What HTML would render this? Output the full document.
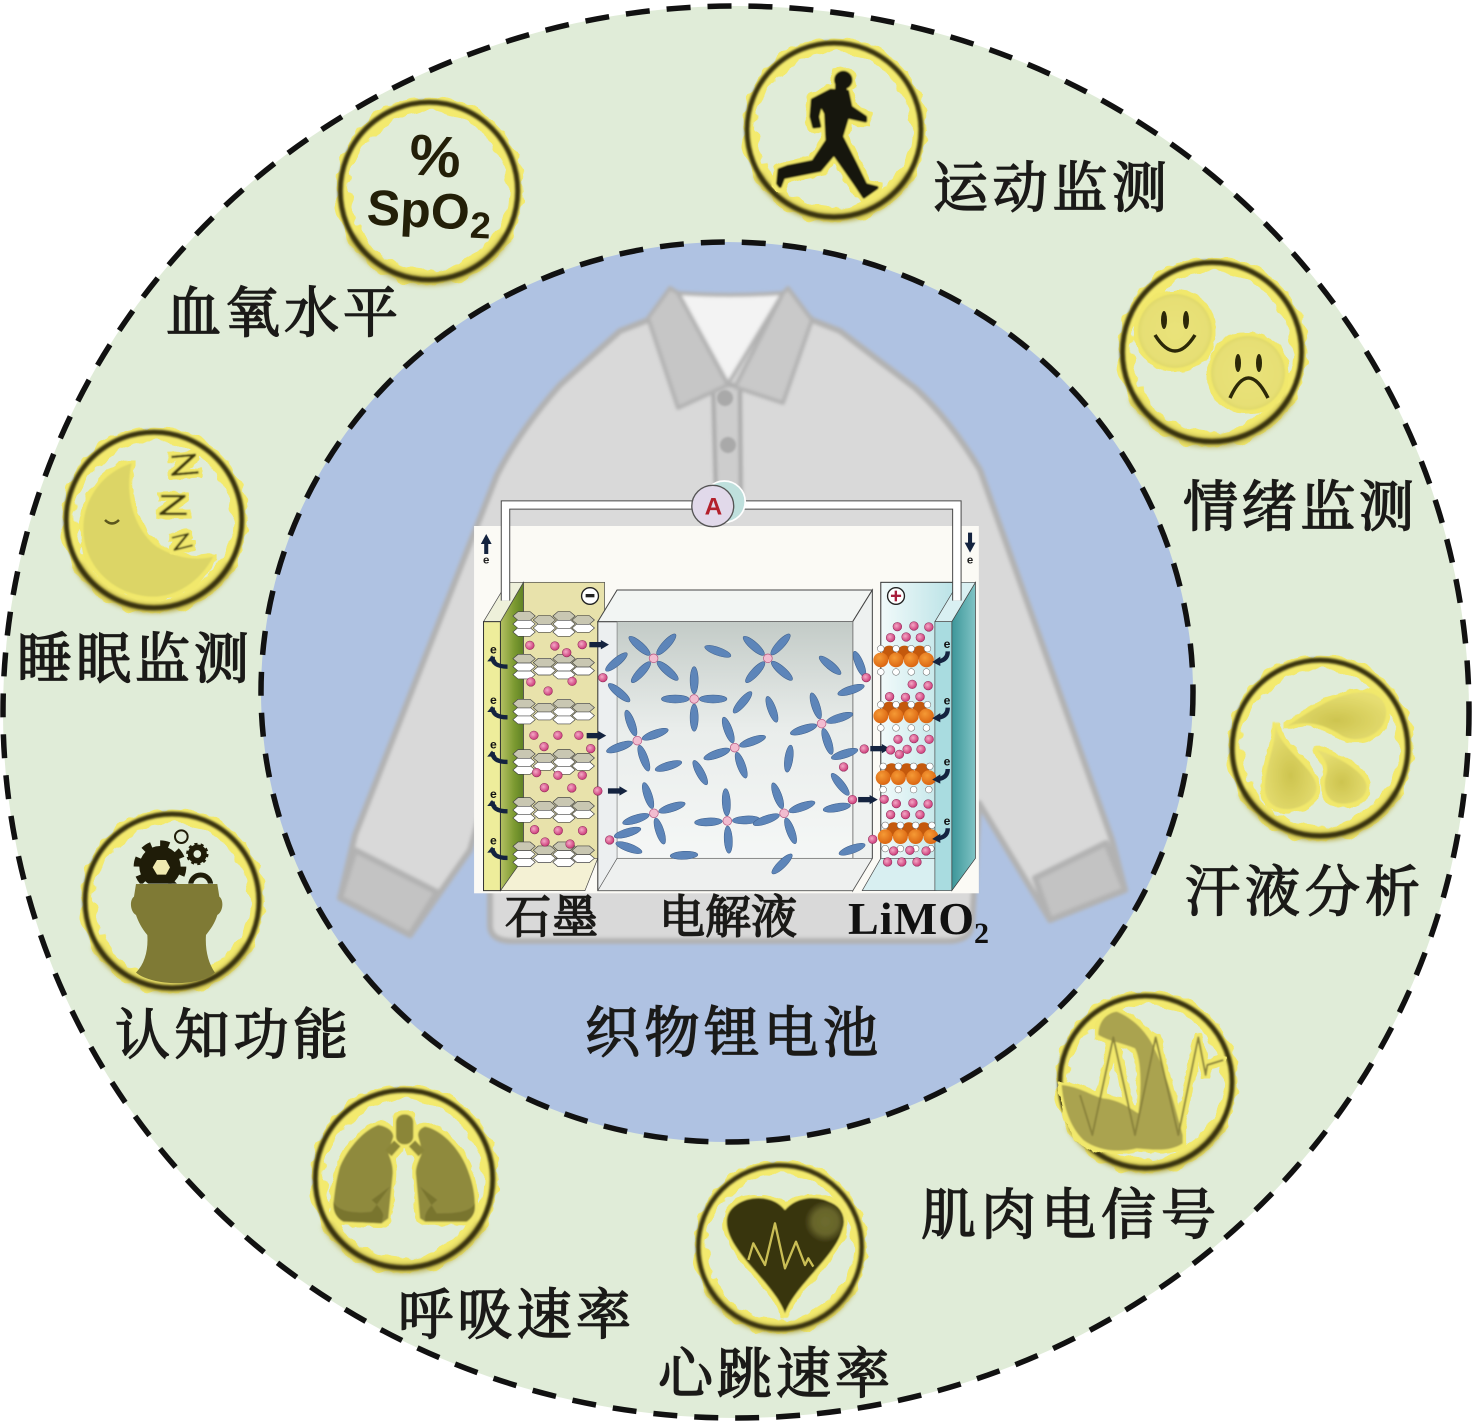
<!DOCTYPE html>
<html lang="zh">
<head>
<meta charset="utf-8">
<title>织物锂电池</title>
<style>
html,body{margin:0;padding:0;background:#fff}
svg{display:block}
.lb{font-family:"Liberation Serif","Noto Serif CJK SC",serif;font-size:55px;fill:#1b1a18;stroke:#1b1a18;stroke-width:1.5}
</style>
</head>
<body>
<svg xmlns="http://www.w3.org/2000/svg" xmlns:xlink="http://www.w3.org/1999/xlink" width="1473" height="1425" viewBox="0 0 1473 1425">
<defs>
<filter id="b4" x="-10%" y="-10%" width="120%" height="120%"><feGaussianBlur stdDeviation="1.5"/></filter>
<filter id="b3" x="-20%" y="-40%" width="140%" height="180%"><feGaussianBlur stdDeviation="2.5"/></filter>
<filter id="b1" x="-10%" y="-10%" width="120%" height="120%"><feGaussianBlur stdDeviation="1"/></filter>
<filter id="rough" x="-20%" y="-20%" width="140%" height="140%">
<feTurbulence type="fractalNoise" baseFrequency=".07" numOctaves="2" seed="4"/>
<feDisplacementMap in="SourceGraphic" scale="13" xChannelSelector="R" yChannelSelector="G"/>
</filter>
<filter id="glow" x="-25%" y="-25%" width="150%" height="150%">
<feMorphology in="SourceAlpha" operator="dilate" radius="3.5" result="d"/>
<feTurbulence type="fractalNoise" baseFrequency=".09" numOctaves="2" seed="7" result="n"/>
<feDisplacementMap in="d" in2="n" scale="6" xChannelSelector="R" yChannelSelector="G" result="dd"/>
<feFlood flood-color="#f1e86c"/>
<feComposite in2="dd" operator="in" result="y"/>
<feGaussianBlur in="SourceGraphic" stdDeviation=".9" result="s"/>
<feMerge><feMergeNode in="y"/><feMergeNode in="s"/></feMerge>
</filter>
<g id="icon">
<circle r="85" fill="none" stroke="#f3ea6e" stroke-width="15" filter="url(#rough)"/>
<path d="M-76,44 A88,88 0 0 0 76,44" fill="none" stroke="#b9af48" stroke-width="9" filter="url(#b3)"/>
<circle r="87" fill="none" stroke="#37310f" stroke-width="5" filter="url(#b1)"/>
</g>
<linearGradient id="back" x1="0" y1="0" x2="0" y2="1"><stop offset="0" stop-color="#c3cbc7"/><stop offset=".45" stop-color="#e9edeb"/><stop offset="1" stop-color="#f5f7f6"/></linearGradient>
<linearGradient id="grn" x1="0" y1="0" x2="1" y2="0"><stop offset="0" stop-color="#b5c063"/><stop offset=".6" stop-color="#7c9a31"/><stop offset="1" stop-color="#5f8224"/></linearGradient>
<linearGradient id="teal" x1="0" y1="0" x2="1" y2="0"><stop offset="0" stop-color="#3c9699"/><stop offset="1" stop-color="#80c4c5"/></linearGradient>
<linearGradient id="cyan" x1="0" y1="0" x2="1" y2="0"><stop offset="0" stop-color="#f1fafa"/><stop offset="1" stop-color="#b7e1e5"/></linearGradient>
<radialGradient id="hl" cx=".55" cy=".5" r=".5"><stop offset="0" stop-color="#6e6c2e"/><stop offset=".6" stop-color="#66642a"/><stop offset="1" stop-color="#39350f"/></radialGradient>
<radialGradient id="face" cx=".5" cy=".5" r=".55"><stop offset="0" stop-color="#e9e27a"/><stop offset=".8" stop-color="#e6df74"/><stop offset="1" stop-color="#d9d264"/></radialGradient>
<radialGradient id="drop" cx=".5" cy=".6" r=".6"><stop offset="0" stop-color="#cdc44f"/><stop offset="1" stop-color="#e6de72"/></radialGradient>
<radialGradient id="li" cx=".4" cy=".4" r=".6"><stop offset="0" stop-color="#f4a9c6"/><stop offset="1" stop-color="#cd3c7a"/></radialGradient>
<radialGradient id="or" cx=".4" cy=".35" r=".7"><stop offset="0" stop-color="#f59a35"/><stop offset="1" stop-color="#d9620f"/></radialGradient>
<clipPath id="gc"><rect x="180" y="60" width="320" height="191"/></clipPath>
<ellipse id="p" cx="56" cy="0" rx="41" ry="12" fill="#5d85b9" stroke="#3a5c8a" stroke-width="1.5"/>
<g id="s"><ellipse cx="0" cy="0" rx="41" ry="12" fill="#5d85b9" stroke="#3a5c8a" stroke-width="1.5"/></g>
<g id="f"><use xlink:href="#p"/><use xlink:href="#p" transform="rotate(90)"/><use xlink:href="#p" transform="rotate(180)"/><use xlink:href="#p" transform="rotate(270)"/><circle r="13" fill="#f2bcd0" stroke="#b5527e" stroke-width="2"/></g>
<circle id="l" r="13" fill="url(#li)" stroke="#8c2a58" stroke-width="1.5"/>
<circle id="w" r="10" fill="#fff" stroke="#666" stroke-width="1.5"/>
<g id="a"><rect x="0" y="-8" width="36" height="16" fill="#14233f"/><polygon points="34,-14 58,0 34,14" fill="#14233f"/></g>
<polygon id="h" points="-33,0 -18,-13 18,-13 33,0 18,13 -18,13" fill="#fff" stroke="#444" stroke-width="2"/>
<polygon id="hg" points="-33,0 -18,-13 18,-13 33,0 18,13 -18,13" fill="#c9c7b2" stroke="#444" stroke-width="2"/>
<g id="g">
<use xlink:href="#h" x="160" y="24"/><use xlink:href="#h" x="278" y="24"/>
<use xlink:href="#h" x="220" y="12"/><use xlink:href="#h" x="335" y="12"/>
<use xlink:href="#h" x="160" y="0"/><use xlink:href="#h" x="278" y="0"/>
<use xlink:href="#hg" x="220" y="-12"/><use xlink:href="#hg" x="335" y="-12"/>
<use xlink:href="#hg" x="160" y="-24"/><use xlink:href="#hg" x="278" y="-24"/>
</g>
<g id="e"><text x="0" y="0" font-family="Liberation Sans,sans-serif" font-size="36" font-weight="bold" fill="#111" text-anchor="middle">e</text><path d="M-2,10 Q-4,40 42,40" fill="none" stroke="#14233f" stroke-width="13"/><polygon points="-16,18 -2,0 12,18" fill="#14233f" transform="translate(-2,6)"/></g>
<g id="e2"><text x="0" y="0" font-family="Liberation Sans,sans-serif" font-size="36" font-weight="bold" fill="#111" text-anchor="middle">e</text><path d="M2,10 Q2,36 -26,40" fill="none" stroke="#14233f" stroke-width="13"/><polygon points="-20,26 -44,42 -20,54" fill="#14233f"/></g>
<g id="ox">
<circle cx="25" cy="-22" r="21" fill="#c4590c"/><circle cx="70" cy="-22" r="21" fill="#c4590c"/><circle cx="115" cy="-22" r="21" fill="#c4590c"/>
<use xlink:href="#w" x="0" y="-34"/><use xlink:href="#w" x="45" y="-34"/><use xlink:href="#w" x="90" y="-34"/><use xlink:href="#w" x="138" y="-34"/>
<circle cx="0" cy="0" r="22" fill="url(#or)"/><circle cx="45" cy="0" r="22" fill="url(#or)"/><circle cx="90" cy="0" r="22" fill="url(#or)"/><circle cx="135" cy="0" r="22" fill="url(#or)"/>
<use xlink:href="#w" x="0" y="36"/><use xlink:href="#w" x="45" y="36"/><use xlink:href="#w" x="90" y="36"/><use xlink:href="#w" x="135" y="36"/>
</g>
</defs>

<rect width="1473" height="1425" fill="#fff"/>
<ellipse cx="736" cy="712" rx="733" ry="706" fill="#e0ecd8" stroke="#111" stroke-width="5.5" stroke-dasharray="24 17"/>
<ellipse cx="727" cy="692" rx="466" ry="450" fill="#afc2e2" stroke="#111" stroke-width="5.5" stroke-dasharray="24 17"/>

<!-- shirt -->
<g filter="url(#b4)" stroke="#b2b2b2" stroke-width="6" stroke-linejoin="round">
<path d="M648,320 L620,331 L560,385 Q520,430 497,475 L355,835 L340,898 L410,935 L470,850 L490,780 L490,925 Q490,940 510,941 L950,941 Q970,940 972,925 L979,803 L1050,920 L1125,890 L1112,840 L980,470 Q950,420 915,388 L840,331 L812,320 L790,300 L680,300 Z" fill="#d9d9d9"/>
<path d="M355,850 L340,898 L410,935 L437,892 Z" fill="#c3c3c3"/>
<path d="M1035,878 L1050,920 L1125,890 L1106,843 Z" fill="#c3c3c3"/>
<path d="M713,385 L740,385 L741,500 L716,500 Z" fill="#cdcdcd" stroke="#a9a9a9" stroke-width="4"/>
<path d="M678,293 Q730,297 783,293 L728,384 Z" fill="#f3f3f3" stroke="#b2b2b2" stroke-width="4"/>
<path d="M670,288 L648,318 L678,408 L728,385 L678,293 Z" fill="#c6c6c6" stroke-width="4"/>
<path d="M788,288 L812,320 L783,403 L735,387 L783,293 Z" fill="#c9c9c9" stroke-width="4"/>
</g>
<circle cx="725" cy="398" r="8" fill="#a9a9a9" filter="url(#b1)"/>
<circle cx="728" cy="445" r="8" fill="#a9a9a9" filter="url(#b1)"/>

<!-- battery -->
<g transform="translate(470 470) scale(.3381 .3333)">
<rect x="12" y="168" width="1493" height="1102" fill="#fbfaf5"/>
<rect x="125" y="125" width="1295" height="43" fill="#dadada"/>
<rect x="158" y="337" width="240" height="830" fill="#e8e2ab" stroke="#444" stroke-width="2"/>
<polygon points="90,1262 158,1165 378,1165 340,1262" fill="#f4f1d4" stroke="#444" stroke-width="2"/>
<polygon points="90,455 158,337 158,1165 90,1262" fill="url(#grn)" stroke="#444" stroke-width="2"/>
<polygon points="40,455 90,455 158,337 110,337" fill="#eef0da" stroke="#444" stroke-width="2"/>
<rect x="40" y="455" width="50" height="807" fill="#eeed9b" stroke="#333" stroke-width="3"/>
<rect x="1215" y="337" width="230" height="830" fill="url(#cyan)" stroke="#333" stroke-width="3"/>
<polygon points="1160,1262 1215,1165 1380,1165 1380,1262" fill="#d8eff1" stroke="#444" stroke-width="2"/>
<polygon points="1425,455 1495,337 1495,1165 1425,1262" fill="url(#teal)" stroke="#333" stroke-width="2"/>
<polygon points="1375,455 1425,455 1495,337 1445,337" fill="#d9f0f2" stroke="#444" stroke-width="2"/>
<rect x="1375" y="455" width="50" height="807" fill="#a9dce0" stroke="#444" stroke-width="2"/>
<rect x="378" y="455" width="754" height="807" fill="#eceff0" stroke="#333" stroke-width="3"/>
<polygon points="378,455 435,360 1190,360 1132,455" fill="#f2f5f3" stroke="#444" stroke-width="3"/>
<polygon points="1132,455 1190,360 1190,1165 1132,1262" fill="#eef1f0" stroke="#444" stroke-width="3"/>
<rect x="435" y="455" width="697" height="710" fill="url(#back)" stroke="#777" stroke-width="2"/>
<polygon points="378,1262 435,1165 1190,1165 1132,1262" fill="#eef0ef" stroke="#555" stroke-width="2"/>
<polyline points="105,392 105,105 1440,105 1440,392" fill="none" stroke="#4a4a4a" stroke-width="28"/>
<polyline points="105,392 105,105 1440,105 1440,392" fill="none" stroke="#fff" stroke-width="22"/>
<circle cx="752" cy="95" r="62" fill="#bfe0dd" stroke="#fff" stroke-width="5"/>
<circle cx="718" cy="108" r="62" fill="#e1d9ea" stroke="#555" stroke-width="4"/>
<text x="720" y="134" font-family="Liberation Sans,sans-serif" font-size="72" font-weight="bold" fill="#b3202c" text-anchor="middle">A</text>
<circle cx="355" cy="378" r="25" fill="#fff" stroke="#222" stroke-width="4"/><rect x="342" y="372" width="26" height="10" fill="#222"/>
<circle cx="1260" cy="378" r="25" fill="#fff" stroke="#222" stroke-width="4"/><rect x="1245" y="374" width="30" height="7" fill="#a81e3c"/><rect x="1256" y="362" width="7" height="32" fill="#a81e3c"/>
<polygon points="48,192 64,222 54,222 54,252 42,252 42,222 32,222" fill="#14233f"/>
<polygon points="1479,248 1495,218 1485,218 1485,188 1473,188 1473,218 1463,218" fill="#14233f"/>
<text x="48" y="280" font-family="Liberation Sans,sans-serif" font-size="34" font-weight="bold" fill="#222" text-anchor="middle">e</text>
<text x="1479" y="280" font-family="Liberation Sans,sans-serif" font-size="34" font-weight="bold" fill="#222" text-anchor="middle">e</text>
<use xlink:href="#g" y="462"/><use xlink:href="#g" y="590"/><use xlink:href="#g" y="725"/><use xlink:href="#g" y="876"/><use xlink:href="#g" y="1020"/><use xlink:href="#g" y="1153"/>
<use xlink:href="#e" x="69" y="550"/><use xlink:href="#e" x="69" y="702"/><use xlink:href="#e" x="69" y="836"/><use xlink:href="#e" x="69" y="984"/><use xlink:href="#e" x="69" y="1124"/>
<use xlink:href="#l" x="177" y="526"/><use xlink:href="#l" x="251" y="528"/><use xlink:href="#l" x="286" y="548"/><use xlink:href="#l" x="332" y="524"/>
<use xlink:href="#l" x="180" y="636"/><use xlink:href="#l" x="302" y="634"/><use xlink:href="#l" x="231" y="663"/>
<use xlink:href="#l" x="189" y="796"/><use xlink:href="#l" x="260" y="796"/><use xlink:href="#l" x="322" y="796"/><use xlink:href="#l" x="219" y="830"/><use xlink:href="#l" x="357" y="836"/>
<use xlink:href="#l" x="197" y="908"/><use xlink:href="#l" x="260" y="916"/><use xlink:href="#l" x="332" y="916"/><use xlink:href="#l" x="220" y="953"/><use xlink:href="#l" x="301" y="954"/>
<use xlink:href="#l" x="191" y="1079"/><use xlink:href="#l" x="261" y="1082"/><use xlink:href="#l" x="333" y="1082"/><use xlink:href="#l" x="222" y="1116"/><use xlink:href="#l" x="296" y="1122"/>
<use xlink:href="#f" transform="translate(543 565) rotate(42)"/>
<use xlink:href="#f" transform="translate(881 565) rotate(42)"/>
<use xlink:href="#f" transform="translate(663 687)"/>
<use xlink:href="#f" transform="translate(495 812) rotate(-20)"/>
<use xlink:href="#f" transform="translate(783 833) rotate(-20)"/>
<use xlink:href="#f" transform="translate(1040 761) rotate(-18)"/>
<use xlink:href="#f" transform="translate(544 1030) rotate(-18)"/>
<use xlink:href="#f" transform="translate(761 1053) rotate(-3)"/>
<use xlink:href="#f" transform="translate(929 1030) rotate(-20)"/>
<use xlink:href="#s" transform="translate(433 576) rotate(-40)"/>
<use xlink:href="#s" transform="translate(733 544) rotate(20)"/>
<use xlink:href="#s" transform="translate(1065 586) rotate(40)"/>
<use xlink:href="#s" transform="translate(441 668) rotate(40)"/>
<use xlink:href="#s" transform="translate(806 697) rotate(-50)"/>
<use xlink:href="#s" transform="translate(893 718) rotate(70)"/>
<use xlink:href="#s" transform="translate(1127 660) rotate(-18)"/>
<use xlink:href="#s" transform="translate(1108 852) rotate(-18)"/>
<use xlink:href="#s" transform="translate(587 888) rotate(-17)"/>
<use xlink:href="#s" transform="translate(681 908) rotate(62)"/>
<use xlink:href="#s" transform="translate(943 866) rotate(-82)"/>
<use xlink:href="#s" transform="translate(1095 943) rotate(52)"/>
<use xlink:href="#s" transform="translate(1085 1013) rotate(-10)"/>
<use xlink:href="#s" transform="translate(633 1156) rotate(-3)"/>
<use xlink:href="#s" transform="translate(923 1182) rotate(-45)"/>
<use xlink:href="#s" transform="translate(1130 1138) rotate(-20)"/>
<use xlink:href="#s" transform="translate(1152 582) rotate(68)"/>
<use xlink:href="#s" transform="translate(466 1088) rotate(-17)"/>
<use xlink:href="#s" transform="translate(470 1133) rotate(20)"/>
<use xlink:href="#l" x="393" y="623"/><use xlink:href="#l" x="413" y="1110"/><use xlink:href="#l" x="378" y="963"/>
<use xlink:href="#l" x="1172" y="623"/><use xlink:href="#l" x="1166" y="837"/><use xlink:href="#l" x="1105" y="891"/><use xlink:href="#l" x="1131" y="989"/><use xlink:href="#l" x="1191" y="1108"/>
<use xlink:href="#a" x="353" y="524"/><use xlink:href="#a" x="345" y="797"/><use xlink:href="#a" x="408" y="963"/><use xlink:href="#a" x="1184" y="836"/><use xlink:href="#a" x="1148" y="989"/>
<use xlink:href="#ox" x="1215" y="570"/><use xlink:href="#ox" x="1215" y="738"/><use xlink:href="#ox" x="1222" y="923"/><use xlink:href="#ox" x="1228" y="1100"/>
<use xlink:href="#l" x="1264" y="470"/><use xlink:href="#l" x="1313" y="468"/><use xlink:href="#l" x="1357" y="471"/><use xlink:href="#l" x="1244" y="503"/><use xlink:href="#l" x="1290" y="501"/><use xlink:href="#l" x="1332" y="503"/>
<use xlink:href="#l" x="1308" y="643"/><use xlink:href="#l" x="1355" y="647"/><use xlink:href="#l" x="1241" y="680"/><use xlink:href="#l" x="1288" y="682"/><use xlink:href="#l" x="1331" y="680"/>
<use xlink:href="#l" x="1266" y="808"/><use xlink:href="#l" x="1313" y="806"/><use xlink:href="#l" x="1358" y="808"/><use xlink:href="#l" x="1244" y="840"/><use xlink:href="#l" x="1293" y="838"/><use xlink:href="#l" x="1334" y="838"/><use xlink:href="#l" x="1270" y="853"/>
<use xlink:href="#l" x="1225" y="988"/><use xlink:href="#l" x="1261" y="1001"/><use xlink:href="#l" x="1310" y="999"/><use xlink:href="#l" x="1355" y="1002"/><use xlink:href="#l" x="1244" y="1034"/><use xlink:href="#l" x="1288" y="1034"/><use xlink:href="#l" x="1331" y="1034"/>
<use xlink:href="#l" x="1253" y="1143"/><use xlink:href="#l" x="1301" y="1141"/><use xlink:href="#l" x="1349" y="1143"/><use xlink:href="#l" x="1235" y="1176"/><use xlink:href="#l" x="1277" y="1176"/><use xlink:href="#l" x="1322" y="1176"/>
<use xlink:href="#e2" x="1411" y="534"/><use xlink:href="#e2" x="1411" y="703"/><use xlink:href="#e2" x="1411" y="887"/><use xlink:href="#e2" x="1411" y="1065"/>
</g>

<!-- icon rings -->
<use xlink:href="#icon" transform="translate(834 130)"/>
<use xlink:href="#icon" transform="translate(429 191) scale(1.02)"/>
<use xlink:href="#icon" transform="translate(1212 352) scale(1.03)"/>
<use xlink:href="#icon" transform="translate(1320 748) scale(1.01)"/>
<use xlink:href="#icon" transform="translate(1146 1082) scale(.99)"/>
<use xlink:href="#icon" transform="translate(780 1247) scale(.94)"/>
<use xlink:href="#icon" transform="translate(404 1179) scale(1.02)"/>
<use xlink:href="#icon" transform="translate(172 901)"/>
<use xlink:href="#icon" transform="translate(154 520) scale(1.01)"/>

<!-- runner -->
<g filter="url(#glow)"><g transform="translate(720 20) scale(.3333)" fill="#14120a">
<path d="M278,240 L332,212 L382,215 L392,262 L436,292 L436,302 L382,290 L364,350 L405,430 L437,495 L470,503 L432,530 L405,490 L342,400 L300,450 L190,472 L180,498 L174,490 L178,450 L205,440 L280,425 L322,362 L318,280 L302,250 L292,290 L298,318 L282,320 L274,290 Z" stroke="#14120a" stroke-width="12" stroke-linejoin="round"/>
<circle cx="370" cy="180" r="28"/>
<rect x="345" y="190" width="36" height="30"/>
</g></g>

<!-- SpO2 -->
<g font-family="Liberation Sans,sans-serif" font-weight="bold" fill="#231f08">
<text x="435" y="176" font-size="58" text-anchor="middle" transform="rotate(4 435 157)">%</text>
<text x="367" y="227" font-size="50" transform="rotate(3 420 210)">SpO</text>
<text x="470" y="238" font-size="37" transform="rotate(3 480 228)">2</text>
</g>

<!-- faces -->
<g filter="url(#glow)">
<circle cx="1175" cy="331" r="37" fill="url(#face)"/>
<circle cx="1248" cy="373" r="37" fill="url(#face)"/>
</g>
<g fill="#2c2808">
<ellipse cx="1164" cy="320" rx="3" ry="9"/><ellipse cx="1186" cy="320" rx="3" ry="9"/>
<ellipse cx="1238" cy="363" rx="3" ry="9"/><ellipse cx="1259" cy="363" rx="3" ry="9"/>
</g>
<path d="M1155,335 Q1175,367 1195,335" fill="none" stroke="#2c2808" stroke-width="3.5"/>
<path d="M1230,398 Q1248,358 1268,398" fill="none" stroke="#2c2808" stroke-width="3.5"/>

<!-- sweat -->
<g filter="url(#glow)"><g transform="translate(1225 655) scale(.3333)" fill="url(#drop)">
<path d="M185,215 C260,165 340,110 420,112 C480,115 500,170 470,215 C440,255 380,265 340,235 C290,205 240,195 185,215 Z"/>
<path d="M152,210 C160,280 275,340 275,400 C270,440 220,465 180,462 C140,460 115,430 120,385 C125,320 150,280 152,210 Z"/>
<path d="M275,285 C320,295 425,350 425,395 C425,430 385,450 345,445 C305,440 290,400 305,355 C312,330 295,305 275,285 Z"/>
</g></g>

<!-- muscle -->
<g filter="url(#glow)"><g transform="translate(1030 980) scale(.3333)">
<path d="M95,315 C150,320 190,350 220,355 C270,360 300,385 325,400 C335,330 335,240 315,205 C280,190 240,185 205,165 C205,130 225,100 260,95 C300,110 350,150 375,210 C405,270 430,360 458,465 L458,490 C420,515 380,510 320,505 C260,520 200,510 160,480 C120,440 100,380 95,315 Z" fill="#aaa34f"/>
<polyline points="150,345 187,465 250,172 315,465 377,172 445,465 505,172 527,285 532,255 580,240" fill="none" stroke="#8b843d" stroke-width="6" stroke-linejoin="round"/>
</g></g>

<!-- heart -->
<g filter="url(#glow)"><g transform="translate(690 1155) scale(.3333)">
<path d="M285,475 C250,380 110,290 110,200 C110,130 235,100 285,165 C340,100 460,130 460,200 C460,290 320,380 285,475 Z" fill="#39350f"/>
<circle cx="400" cy="200" r="62" fill="url(#hl)"/>
</g></g>
<g transform="translate(690 1155) scale(.3333)">
<polyline points="175,315 190,265 225,330 255,205 285,340 318,260 345,330 355,310 370,335" fill="none" stroke="#c9be55" stroke-width="7" stroke-linejoin="round"/>
</g>

<!-- lungs -->
<g filter="url(#glow)"><g transform="translate(310 1085) scale(.3333)">
<path d="M205,120 C235,125 250,140 250,155 C245,175 235,190 235,205 C245,230 250,250 248,270 L235,400 L215,415 L100,410 C80,400 70,380 70,360 C75,310 80,280 90,245 C110,195 160,135 205,120 Z" fill="#8f8a3e"/>
<path d="M345,125 C330,130 322,142 325,155 C330,175 335,190 335,205 C325,230 315,250 318,270 L330,400 L345,410 L470,410 C485,400 495,385 495,370 C495,330 490,300 475,260 C455,200 400,135 345,125 Z" fill="#8f8a3e"/>
<path d="M240,305 L185,345 Q215,370 220,390 L215,415 L100,410 C80,400 70,380 70,350 C85,385 150,385 185,380 Z" fill="#79742f"/>
<path d="M330,305 L382,345 Q350,370 345,395 L345,410 L470,410 C485,400 495,385 495,355 C480,385 420,385 380,385 Z" fill="#79742f"/>
<rect x="258" y="88" width="52" height="90" rx="24" fill="#8b8639"/>
<path d="M262,175 L235,205 M306,175 L335,205" stroke="#8b8639" stroke-width="26" fill="none"/>
</g></g>

<!-- head -->
<g transform="translate(60 800) scale(.3333)">
<path d="M228,252 L472,252 L478,290 C492,300 490,335 472,345 C465,370 450,390 438,405 C435,450 445,490 465,518 C420,560 280,560 228,518 C255,490 265,450 262,405 C245,385 235,365 228,345 C210,335 208,300 222,290 Z" fill="#7f7a35"/>
<g clip-path="url(#gc)">
<circle cx="300" cy="200" r="62" fill="#1f1c08"/>
<circle cx="300" cy="200" r="68" fill="none" stroke="#1f1c08" stroke-width="22" stroke-dasharray="26.7 26.7"/>
<circle cx="422" cy="255" r="30" fill="none" stroke="#1f1c08" stroke-width="15"/>
</g>
<polygon points="278,202 291,180 318,180 330,202 318,224 291,224" fill="#f0eab0"/>
<circle cx="412" cy="162" r="20" fill="none" stroke="#1f1c08" stroke-width="17"/>
<circle cx="412" cy="162" r="30" fill="none" stroke="#1f1c08" stroke-width="7" stroke-dasharray="9.4 9.4"/>
<circle cx="364" cy="110" r="19" fill="none" stroke="#1f1c08" stroke-width="6"/>
</g>

<!-- moon -->
<g filter="url(#glow)"><g transform="translate(60 425) scale(.3333)">
<path d="M215,115 C130,140 70,220 70,310 C70,430 170,515 280,515 C350,515 420,470 460,395 C400,410 340,395 290,365 C230,320 190,220 215,115 Z" fill="#dcd566"/>
</g></g>
<path d="M105,520 Q112,527 119,520" fill="none" stroke="#5c561d" stroke-width="2.5"/>
<g font-family="Liberation Sans,sans-serif" fill="#3d3910" stroke="#3d3910" stroke-width=".3" filter="url(#glow)">
<text transform="translate(170 476) rotate(-5) scale(1.7 1)" font-size="29">Z</text>
<text transform="translate(158 515) scale(1.7 1)" font-size="29">Z</text>
<text transform="translate(173 551) rotate(-14) scale(1.75 1)" font-size="20">Z</text>
</g>

<!-- labels -->
<text class="lb" x="933" y="207" textLength="234">运动监测</text>
<text class="lb" x="166" y="332" textLength="232">血氧水平</text>
<text class="lb" x="1183" y="526" textLength="231">情绪监测</text>
<text class="lb" x="17" y="678" textLength="232">睡眠监测</text>
<text class="lb" x="1185" y="911" textLength="235">汗液分析</text>
<text class="lb" x="115" y="1054" textLength="233">认知功能</text>
<text class="lb" x="921" y="1234" textLength="295">肌肉电信号</text>
<text class="lb" x="398" y="1334" textLength="233">呼吸速率</text>
<text class="lb" x="658" y="1393" textLength="232">心跳速率</text>
<text class="lb" x="585" y="1052" textLength="293">织物锂电池</text>
<text class="lb" x="505" y="933" textLength="93" style="font-size:46px">石墨</text>
<text class="lb" x="659" y="933" textLength="138" style="font-size:46px">电解液</text>
<text x="848" y="934" font-family="Liberation Serif,serif" font-weight="bold" font-size="46" fill="#111" textLength="126">LiMO</text>
<text x="974" y="943" font-family="Liberation Serif,serif" font-weight="bold" font-size="30" fill="#111">2</text>
</svg>
</body>
</html>
